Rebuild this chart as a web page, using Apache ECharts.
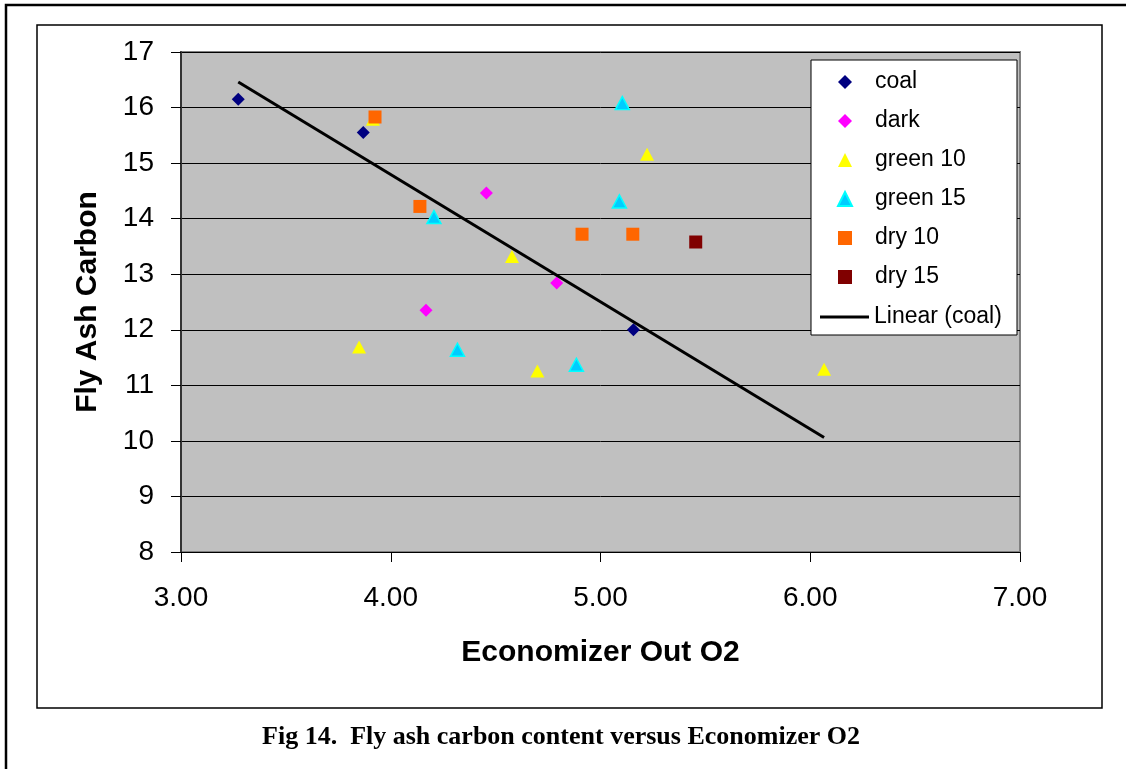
<!DOCTYPE html>
<html><head><meta charset="utf-8">
<script src="https://cdn.jsdelivr.net/npm/echarts@6/dist/echarts.min.js"></script>
<style>html,body{margin:0;padding:0;background:#fff}#c{width:1126px;height:769px}</style>
</head><body><div id="c"></div>
<script>
// ---- data ----
const seriesNames = ['coal', 'dark', 'green 10', 'green 15', 'dry 10', 'dry 15'];
const trendName = 'Linear (coal)';
const coalX = [3.273, 3.869, 5.157];
const coalY = [16.15, 15.55, 12.00];
const darkX = [4.168, 4.456, 4.791];
const darkY = [12.35, 14.46, 12.84];
const green10X = [3.849, 3.915, 4.578, 4.699, 5.222, 6.066];
const green10Y = [11.69, 15.79, 13.32, 11.26, 15.16, 11.29];
const green15X = [4.206, 4.318, 4.885, 5.090, 5.104];
const green15Y = [14.03, 11.64, 11.37, 14.31, 16.08];
const dry10X = [3.925, 4.139, 4.912, 5.154];
const dry10Y = [15.83, 14.22, 13.72, 13.72];
const dry15X = [5.454];
const dry15Y = [13.58];
const xAxisRange = [3, 7];
const yAxisRange = [8, 17];
const xTitle = 'Economizer Out O2';
const yTitle = 'Fly Ash Carbon';
const caption = 'Fig 14.  Fly ash carbon content versus Economizer O2';

// ---- helpers ----
const zip = (xs, ys) => xs.map((x, i) => [x, ys[i]]);
// least-squares trendline of the coal series
const n = coalX.length;
const mx = coalX.reduce((a, b) => a + b, 0) / n;
const my = coalY.reduce((a, b) => a + b, 0) / n;
let sxy = 0, sxx = 0;
for (let i = 0; i < n; i++) { sxy += (coalX[i] - mx) * (coalY[i] - my); sxx += (coalX[i] - mx) ** 2; }
const slope = sxy / sxx, icpt = my - slope * mx;
const allX = [].concat(coalX, darkX, green10X, green15X, dry10X, dry15X);
const tx0 = Math.min(...coalX), tx1 = Math.max(...allX);
const trendData = [[tx0, icpt + slope * tx0], [tx1, icpt + slope * tx1]];

const SANS = '"Liberation Sans", Arial, sans-serif';
const SERIF = '"Liberation Serif", "Times New Roman", serif';

const chart = echarts.init(document.getElementById('c'), null, { renderer: 'canvas' });
chart.setOption({
  animation: false,
  backgroundColor: '#ffffff',
  textStyle: { fontFamily: SANS },
  grid: { left: 181, right: 106, top: 52, bottom: 217, show: true, backgroundColor: '#c0c0c0', borderColor: '#808080', borderWidth: 2 },
  xAxis: {
    type: 'value', min: xAxisRange[0], max: xAxisRange[1], interval: 1,
    axisLine: { show: true, onZero: false, lineStyle: { color: '#000', width: 1 } },
    axisTick: { show: true, length: 10, lineStyle: { color: '#000' } },
    axisLabel: { formatter: v => v.toFixed(2), fontSize: 28, color: '#000', margin: 32, fontFamily: SANS },
    splitLine: { show: false },
    name: xTitle, nameLocation: 'middle', nameGap: 86,
    nameTextStyle: { fontSize: 30, fontWeight: 'bold', color: '#000', fontFamily: SANS }
  },
  yAxis: {
    type: 'value', min: yAxisRange[0], max: yAxisRange[1], interval: 1,
    axisLine: { show: true, lineStyle: { color: '#333', width: 2 } },
    axisTick: { show: true, length: 10, lineStyle: { color: '#000' } },
    axisLabel: { fontSize: 28, color: '#000', margin: 27, fontFamily: SANS },
    splitLine: { show: true, lineStyle: { color: '#000', width: 1 } },
    name: yTitle, nameLocation: 'middle', nameGap: 78, nameRotate: 90,
    nameTextStyle: { fontSize: 30, fontWeight: 'bold', color: '#000', fontFamily: SANS }
  },
  legend: [
    {
      orient: 'vertical', left: 837, top: 70, padding: 0,
      itemWidth: 14, itemHeight: 14, itemGap: 15,
      textStyle: { fontSize: 23, lineHeight: 24, color: '#000', fontFamily: SANS, padding: [0, 0, 0, 18] },
      data: seriesNames, z: 5
    },
    {
      orient: 'vertical', left: 820, top: 305, padding: 0,
      itemWidth: 49, itemHeight: 3, itemGap: 15,
      textStyle: { fontSize: 23, lineHeight: 24, color: '#000', fontFamily: SANS },
      data: [{ name: trendName, icon: 'rect', itemStyle: { color: '#000' } }], z: 5
    }
  ],
  graphic: { elements: [
    { type: 'rect', shape: { x: 6, y: 5, width: 1140, height: 790 }, style: { fill: 'none', stroke: '#000', lineWidth: 2.5 }, z: 1, silent: true },
    { type: 'rect', shape: { x: 37, y: 25, width: 1065, height: 683 }, style: { fill: 'none', stroke: '#000', lineWidth: 1.5 }, z: 1, silent: true },
    { type: 'rect', shape: { x: 811, y: 60, width: 206, height: 275 }, style: { fill: '#fff', stroke: '#000', lineWidth: 1 }, z: 3, silent: true },
    { type: 'text', x: 561, y: 737, style: { text: caption, font: 'bold 26px ' + SERIF, fill: '#000', textAlign: 'center', textVerticalAlign: 'middle' }, z: 1, silent: true }
  ] },
  series: [
    { name: seriesNames[0], type: 'scatter', symbol: 'diamond', symbolSize: 13, data: zip(coalX, coalY), itemStyle: { color: '#000080', opacity: 1 } },
    { name: seriesNames[1], type: 'scatter', symbol: 'diamond', symbolSize: 13, data: zip(darkX, darkY), itemStyle: { color: '#ff00ff', opacity: 1 } },
    { name: seriesNames[2], type: 'scatter', symbol: 'triangle', symbolSize: [14, 13], data: zip(green10X, green10Y), itemStyle: { color: '#ffff00', opacity: 1 } },
    { name: seriesNames[3], type: 'scatter', symbol: 'triangle', symbolSize: [14, 13], data: zip(green15X, green15Y), itemStyle: { color: '#00ccff', borderColor: '#00ffff', borderWidth: 1.5, opacity: 1 } },
    { name: seriesNames[4], type: 'scatter', symbol: 'rect', symbolSize: 13, data: zip(dry10X, dry10Y), itemStyle: { color: '#ff6600', opacity: 1 } },
    { name: seriesNames[5], type: 'scatter', symbol: 'rect', symbolSize: 13, data: zip(dry15X, dry15Y), itemStyle: { color: '#800000', opacity: 1 } },
    { name: trendName, type: 'line', data: trendData, symbol: 'none', showSymbol: false, lineStyle: { color: '#000', width: 3 }, itemStyle: { color: '#000' }, z: 3 }
  ]
});
</script></body></html>
